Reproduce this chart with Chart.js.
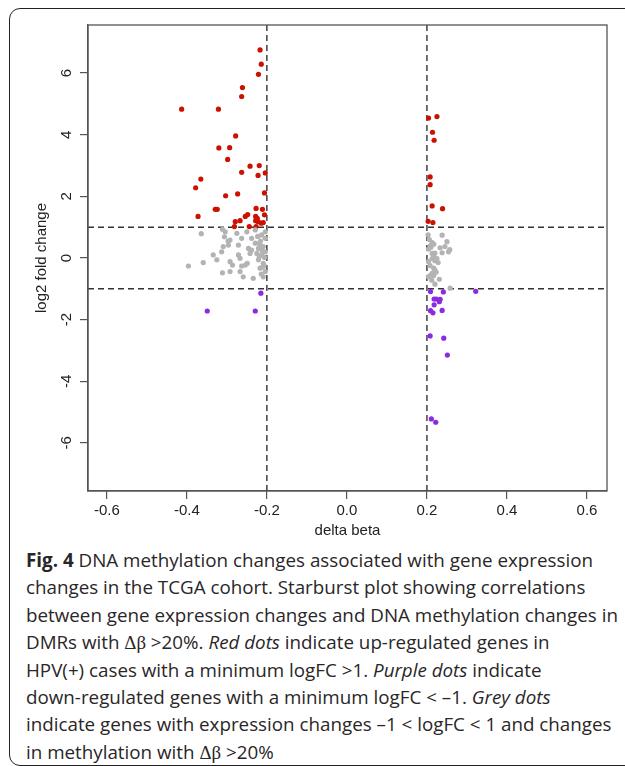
<!DOCTYPE html>
<html>
<head>
<meta charset="utf-8">
<script src="https://cdn.jsdelivr.net/npm/chart.js@4/dist/chart.umd.min.js"></script>
<style>
  html, body { margin: 0; padding: 0; background: #fff; }
  body { width: 625px; height: 766px; position: relative; overflow: hidden; }
  #frame {
    position: absolute; left: 9px; top: 8px; width: 640px; height: 758px;
    border: 1.6px solid #222; border-radius: 11px; box-sizing: border-box;
  }
  #plot { position: absolute; left: 0; top: 0; }
  #caption {
    position: absolute; left: 26px; top: 547px;
    font-family: "Open Sans", sans-serif; font-size: 18.8px; line-height: 27.4px;
    color: #2a2627; white-space: nowrap;
  }
  #caption .sym { font-family: "Liberation Serif", serif; }
</style>
</head>
<body>
<div id="frame"></div>
<canvas id="plot" width="625" height="540"></canvas>
<div id="caption">
  <div><b>Fig. 4</b> DNA methylation changes associated with gene expression</div>
  <div>changes in the TCGA cohort. Starburst plot showing correlations</div>
  <div>between gene expression changes and DNA methylation changes in</div>
  <div>DMRs with <span class="sym">Δβ</span> &gt;20%. <i>Red dots</i> indicate up-regulated genes in</div>
  <div>HPV(+) cases with a minimum logFC &gt;1. <i>Purple dots</i> indicate</div>
  <div>down-regulated genes with a minimum logFC &lt; –1. <i>Grey dots</i></div>
  <div>indicate genes with expression changes –1 &lt; logFC &lt; 1 and changes</div>
  <div>in methylation with <span class="sym">Δβ</span> &gt;20%</div>
</div>
<script>
// up-regulated (red)
const redX = [-0.217, -0.214, -0.221, -0.261, -0.263, -0.413, -0.321, -0.278, -0.320, -0.293,
  -0.298, -0.242, -0.219, -0.263, -0.222, -0.204, -0.365, -0.378, -0.303, -0.273,
  -0.206, -0.329, -0.324, -0.372, -0.227, -0.211, -0.254, -0.248, -0.267, -0.279,
  -0.228, -0.224, -0.228, -0.222, -0.206, -0.209, -0.214, -0.281, -0.244, -0.227,
  0.204, 0.225, 0.214, 0.218, 0.208, 0.208, 0.213, 0.239, 0.203, 0.215];
const redY = [6.75, 6.29, 5.96, 5.53, 5.24, 4.83, 4.83, 3.96, 3.57, 3.58,
  3.20, 2.98, 3.00, 2.78, 2.68, 2.76, 2.56, 2.28, 2.02, 2.08,
  2.11, 1.58, 1.58, 1.35, 1.61, 1.58, 1.35, 1.41, 1.21, 1.18,
  1.35, 1.29, 1.21, 1.18, 1.40, 1.15, 1.13, 1.02, 1.02, 1.02,
  4.54, 4.59, 4.08, 3.82, 2.63, 2.38, 1.69, 1.60, 1.19, 1.15];

// down-regulated (purple)
const purpleX = [-0.215, -0.349, -0.229,
  0.209, 0.241, 0.322, 0.218, 0.223, 0.233, 0.231, 0.218, 0.238, 0.209, 0.215,
  0.208, 0.242, 0.251, 0.211, 0.222];
const purpleY = [-1.14, -1.72, -1.72,
  -1.09, -1.10, -1.08, -1.33, -1.33, -1.34, -1.42, -1.52, -1.70, -1.71, -1.78,
  -2.53, -2.60, -3.15, -5.22, -5.33];

// unchanged expression (grey)
const greyX = [-0.304, -0.275, -0.250, -0.229, -0.204, -0.292, -0.263, -0.238, -0.213, -0.204,
  -0.309, -0.296, -0.271, -0.229, -0.217, -0.246, -0.238, -0.221, -0.209, -0.334,
  -0.313, -0.271, -0.242, -0.225, -0.213, -0.204, -0.325, -0.292, -0.267, -0.254,
  -0.221, -0.209, -0.359, -0.292, -0.267, -0.217, -0.204, -0.259, -0.234, -0.209,
  -0.364, -0.311, -0.306, -0.297, -0.396, -0.286, -0.311, -0.263, -0.249, -0.216,
  -0.219, -0.212, -0.207, -0.223, -0.214, -0.206, -0.218, -0.211,
  0.203, 0.238, 0.213, 0.217, 0.250, 0.233, 0.245, 0.257, 0.204, 0.213,
  0.220, 0.217, 0.225, 0.213, 0.220, 0.238, 0.204, 0.208, 0.217, 0.220,
  0.213, 0.208, 0.217, 0.223, 0.231, 0.220, 0.258, 0.204, 0.254, 0.210,
  0.206, 0.212, 0.209, 0.228];
const greyY = [0.85, 0.80, 0.85, 0.91, 0.85, 0.58, 0.64, 0.64, 0.75, 0.64,
  0.37, 0.42, 0.42, 0.48, 0.42, 0.31, 0.26, 0.31, 0.37, 0.10,
  0.20, 0.10, 0.15, 0.15, 0.10, 0.20, -0.06, -0.12, -0.01, -0.23,
  -0.06, -0.17, -0.15, -0.44, -0.44, -0.33, -0.44, -0.61, -0.66, -0.61,
  0.79, 0.93, 0.69, 0.55, -0.26, -0.23, -0.48, -0.26, -0.17, 0.55,
  0.05, 0.25, -0.25, 0.70, -0.52, 0.02, 0.48, -0.30,
  0.75, 0.74, 0.50, 0.45, 0.53, 0.33, 0.37, 0.27, 0.29, 0.15,
  0.16, 0.07, -0.02, -0.02, -0.09, 0.17, -0.12, -0.25, -0.33, -0.39,
  -0.50, -0.57, -0.57, -0.46, -0.69, -0.85, -0.98, -0.61, 0.20, 0.35,
  0.60, -0.72, 0.40, -0.15];

const cutX = [-0.2, 0.2];
const cutY = [-1, 1];
const xTicks = [-0.6, -0.4, -0.2, 0.0, 0.2, 0.4, 0.6];
const yTicks = [-6, -4, -2, 0, 2, 4, 6];

const xMin = -0.647, xMax = 0.65, yMin = -7.56, yMax = 7.56;

const pts = (xs, ys) => xs.map((x, i) => ({ x: x, y: ys[i] }));

const dashStyle = { type: 'line', showLine: true, borderColor: '#333', borderWidth: 1.4,
  borderDash: [6, 4], pointRadius: 0, fill: false };

const datasets = [
  { label: 'grey', data: pts(greyX, greyY), backgroundColor: '#b3b3b3', pointRadius: 2.6, borderWidth: 0 },
  { label: 'red', data: pts(redX, redY), backgroundColor: '#cc1100', pointRadius: 2.6, borderWidth: 0 },
  { label: 'purple', data: pts(purpleX, purpleY), backgroundColor: '#8a2be2', pointRadius: 2.6, borderWidth: 0 }
];
cutX.forEach(v => datasets.push(Object.assign({ data: [{ x: v, y: yMin }, { x: v, y: yMax }] }, dashStyle)));
cutY.forEach(v => datasets.push(Object.assign({ data: [{ x: xMin, y: v }, { x: xMax, y: v }] }, dashStyle)));

// R style box round the plot region
const boxPlugin = {
  id: 'box',
  afterDraw(chart) {
    const a = chart.chartArea, ctx = chart.ctx;
    ctx.save();
    ctx.strokeStyle = '#555';
    ctx.lineWidth = 1.3;
    ctx.strokeRect(a.left, a.top, a.right - a.left, a.bottom - a.top);
    ctx.restore();
  }
};

const tickFont = { family: 'Liberation Sans', size: 15 };

new Chart(document.getElementById('plot'), {
  type: 'scatter',
  data: { datasets },
  plugins: [boxPlugin],
  options: {
    responsive: false,
    devicePixelRatio: 1,
    animation: false,
    layout: { padding: { top: 25, right: 18, left: 33, bottom: 0 } },
    plugins: { legend: { display: false }, tooltip: { enabled: false } },
    scales: {
      x: {
        type: 'linear', min: xMin, max: xMax,
        afterBuildTicks: s => { s.ticks = xTicks.map(v => ({ value: v })); },
        afterFit: s => { s.height = 49; },
        grid: { display: true, drawOnChartArea: false, drawTicks: true, tickLength: 8, color: '#555', lineWidth: 1.2 },
        border: { display: true, color: '#555', width: 1.3 },
        ticks: { color: '#222', font: tickFont, padding: 3, maxRotation: 0, callback: v => v.toFixed(1) },
        title: { display: true, text: 'delta beta', color: '#222', font: tickFont, padding: 0 }
      },
      y: {
        type: 'linear', min: yMin, max: yMax,
        afterBuildTicks: s => { s.ticks = yTicks.map(v => ({ value: v })); },
        afterFit: s => { s.width = 55; },
        grid: { display: true, drawOnChartArea: false, drawTicks: true, tickLength: 8, color: '#555', lineWidth: 1.2 },
        border: { display: true, color: '#555', width: 1.3 },
        ticks: { color: '#222', font: tickFont, padding: 6, minRotation: 90, maxRotation: 90,
          crossAlign: 'center', callback: v => String(v) },
        title: { display: true, text: 'log2 fold change', color: '#222', font: tickFont, padding: 0 }
      }
    }
  }
});
</script>
</body>
</html>
